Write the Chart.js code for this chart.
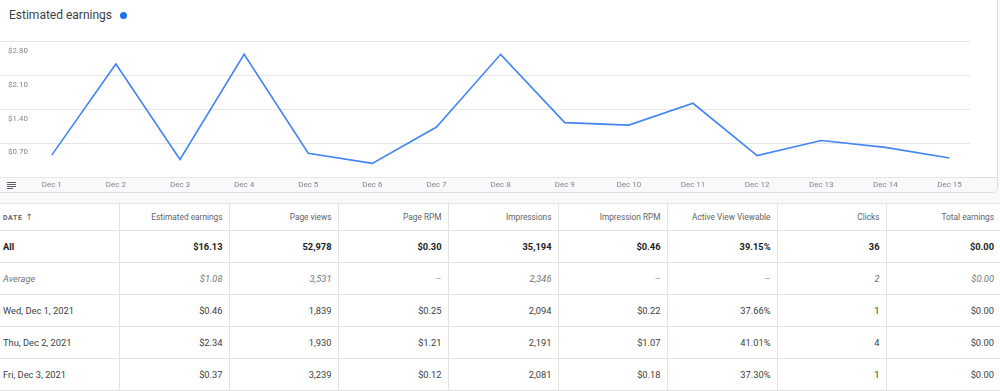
<!DOCTYPE html>
<html>
<head>
<meta charset="utf-8">
<script src="https://cdnjs.cloudflare.com/ajax/libs/Chart.js/4.4.1/chart.umd.js"></script>
<style>
    html, body { margin:0; padding:0; }
    body { width:1000px; height:391px; overflow:hidden; position:relative; background:#f8f9fa; font-family:Roboto, "Noto Sans", sans-serif; }
    #card { position:absolute; left:-1px; top:-1px; width:999px; height:194px; background:#fff; border:1px solid #dadce0; border-radius:0 0 6px 0; box-sizing:border-box; overflow:hidden; }
    #title { position:absolute; left:9px; top:7px; font-size:12px; color:#3c4043; line-height:16px; }
    #dot { position:absolute; left:120px; top:12px; width:7px; height:7px; border-radius:50%; background:#1a73e8; }
    #band { position:absolute; left:0; top:177px; width:100%; height:16px; background:#f8f9fa; border-top:1px solid #dadce0; box-sizing:border-box; }
    #icon { position:absolute; left:7px; top:182px; width:9px; }
    #icon span { display:block; height:1px; background:#5f6368; margin-bottom:1px; }
    #chart-wrap { position:absolute; left:-16px; top:29px; width:986px; height:164px; }
    #tbl { position:absolute; left:0; top:203px; width:1000px; border-collapse:collapse; table-layout:fixed; background:#fff; }
    #tbl th, #tbl td { border:1px solid #e3e3e3; padding:0 6px 0 3px; text-align:right; white-space:nowrap; overflow:hidden; }
    #tbl tr > :first-child { border-left:none; text-align:left; }
    #tbl tr > :last-child { border-right:none; }
    #tbl th { height:26px; font-size:8.3px; font-weight:400; color:#5f6368; }
    #tbl th.date { font-size:7px; font-weight:700; letter-spacing:0.6px; }
    #tbl th.date span { font-family:"DejaVu Sans", sans-serif; font-size:9px; font-weight:400; letter-spacing:0; margin-left:3px; }
    #tbl td { height:31px; font-size:9.3px; color:#3c4043; }
    #tbl tr.total td { font-weight:700; color:#202124; }
    #tbl tr.avg td { font-style:italic; color:#70757a; }
</style>
</head>
<body>
<div id="card">
    <div id="title">Estimated earnings</div>
    <div id="dot"></div>
    <div id="band"></div>
    <div id="icon"><span></span><span></span><span></span><span style="width:6px;"></span></div>
    <div id="chart-wrap"><canvas id="chart"></canvas></div>
</div>
<table id="tbl"></table>

<script>
// chart data
const days     = ['Dec 1', 'Dec 2', 'Dec 3', 'Dec 4', 'Dec 5', 'Dec 6', 'Dec 7', 'Dec 8', 'Dec 9', 'Dec 10', 'Dec 11', 'Dec 12', 'Dec 13', 'Dec 14', 'Dec 15'];
const earnings = [0.46, 2.34, 0.37, 2.54, 0.50, 0.29, 1.04, 2.54, 1.13, 1.08, 1.53, 0.45, 0.76, 0.62, 0.40];
const yTicks   = [0, 0.70, 1.40, 2.10, 2.80];

// table data
const colWidths = [119, 110, 109, 110, 110, 109, 110, 109, 114];
const headers   = ['DATE<span>\u2191</span>', 'Estimated earnings', 'Page views', 'Page RPM', 'Impressions', 'Impression RPM', 'Active View Viewable', 'Clicks', 'Total earnings'];
const totalRow  = ['All', '$16.13', '52,978', '$0.30', '35,194', '$0.46', '39.15%', '36', '$0.00'];
const avgRow    = ['Average', '$1.08', '3,531', '\u2013', '2,346', '\u2013', '\u2013', '2', '$0.00'];
const dayRows   = [
    ['Wed, Dec 1, 2021', '$0.46', '1,839', '$0.25', '2,094', '$0.22', '37.66%', '1', '$0.00'],
    ['Thu, Dec 2, 2021', '$2.34', '1,930', '$1.21', '2,191', '$1.07', '41.01%', '4', '$0.00'],
    ['Fri, Dec 3, 2021', '$0.37', '3,239', '$0.12', '2,081', '$0.18', '37.30%', '1', '$0.00'],
];

function renderTable() {
    const tbl = document.getElementById('tbl');
    tbl.innerHTML = `
<colgroup>${colWidths.map(w => `<col style="width:${w}px">`).join('')}</colgroup>
<tr>${headers.map((h, i) => `<th class="${i === 0 ? 'date' : ''}">${h}</th>`).join('')}</tr>
<tr class="total">${totalRow.map(v => `<td>${v}</td>`).join('')}</tr>
<tr class="avg">${avgRow.map(v => `<td>${v}</td>`).join('')}</tr>
${dayRows.map(r => `<tr>${r.map(v => `<td>${v}</td>`).join('')}</tr>`).join('')}`;
}

function renderChart() {
    const ctx = document.getElementById('chart');
    new Chart(ctx, {
        type: 'line',
        data: {
            datasets: [{
                label: 'Estimated earnings',
                data: earnings.map((v, i) => ({ x: i, y: v })),
                borderColor: '#4285f4',
                borderWidth: 1.6,
                pointRadius: 0,
                tension: 0,
                fill: false,
            }]
        },
        options: {
            responsive: true, maintainAspectRatio: false, animation: false,
            layout: { padding: 0 },
            plugins: { legend: { display: false }, tooltip: { enabled: false } },
            scales: {
                x: {
                    type: 'linear', min: -0.807, max: 14.32,
                    afterBuildTicks: s => { s.ticks = days.map((_, i) => ({ value: i })); },
                    ticks: { callback: v => days[v] || '', color: '#80868b', font: { family: 'Roboto', size: 8 }, padding: 3, maxRotation: 0, autoSkip: false },
                    grid: { display: false, drawTicks: false },
                    border: { display: false },
                },
                y: {
                    min: 0, max: 2.8,
                    afterBuildTicks: s => { s.ticks = yTicks.map(v => ({ value: v })); },
                    ticks: {
                        mirror: true, padding: 8, labelOffset: 9,
                        callback: v => v === 0 ? '' : '$' + v.toFixed(2),
                        color: '#80868b', font: { family: 'Roboto', size: 7.9 },
                    },
                    grid: { color: '#e6e6e6', drawTicks: false },
                    border: { display: false },
                }
            }
        }
    });
}

renderTable();
renderChart();
</script>
</body>
</html>
